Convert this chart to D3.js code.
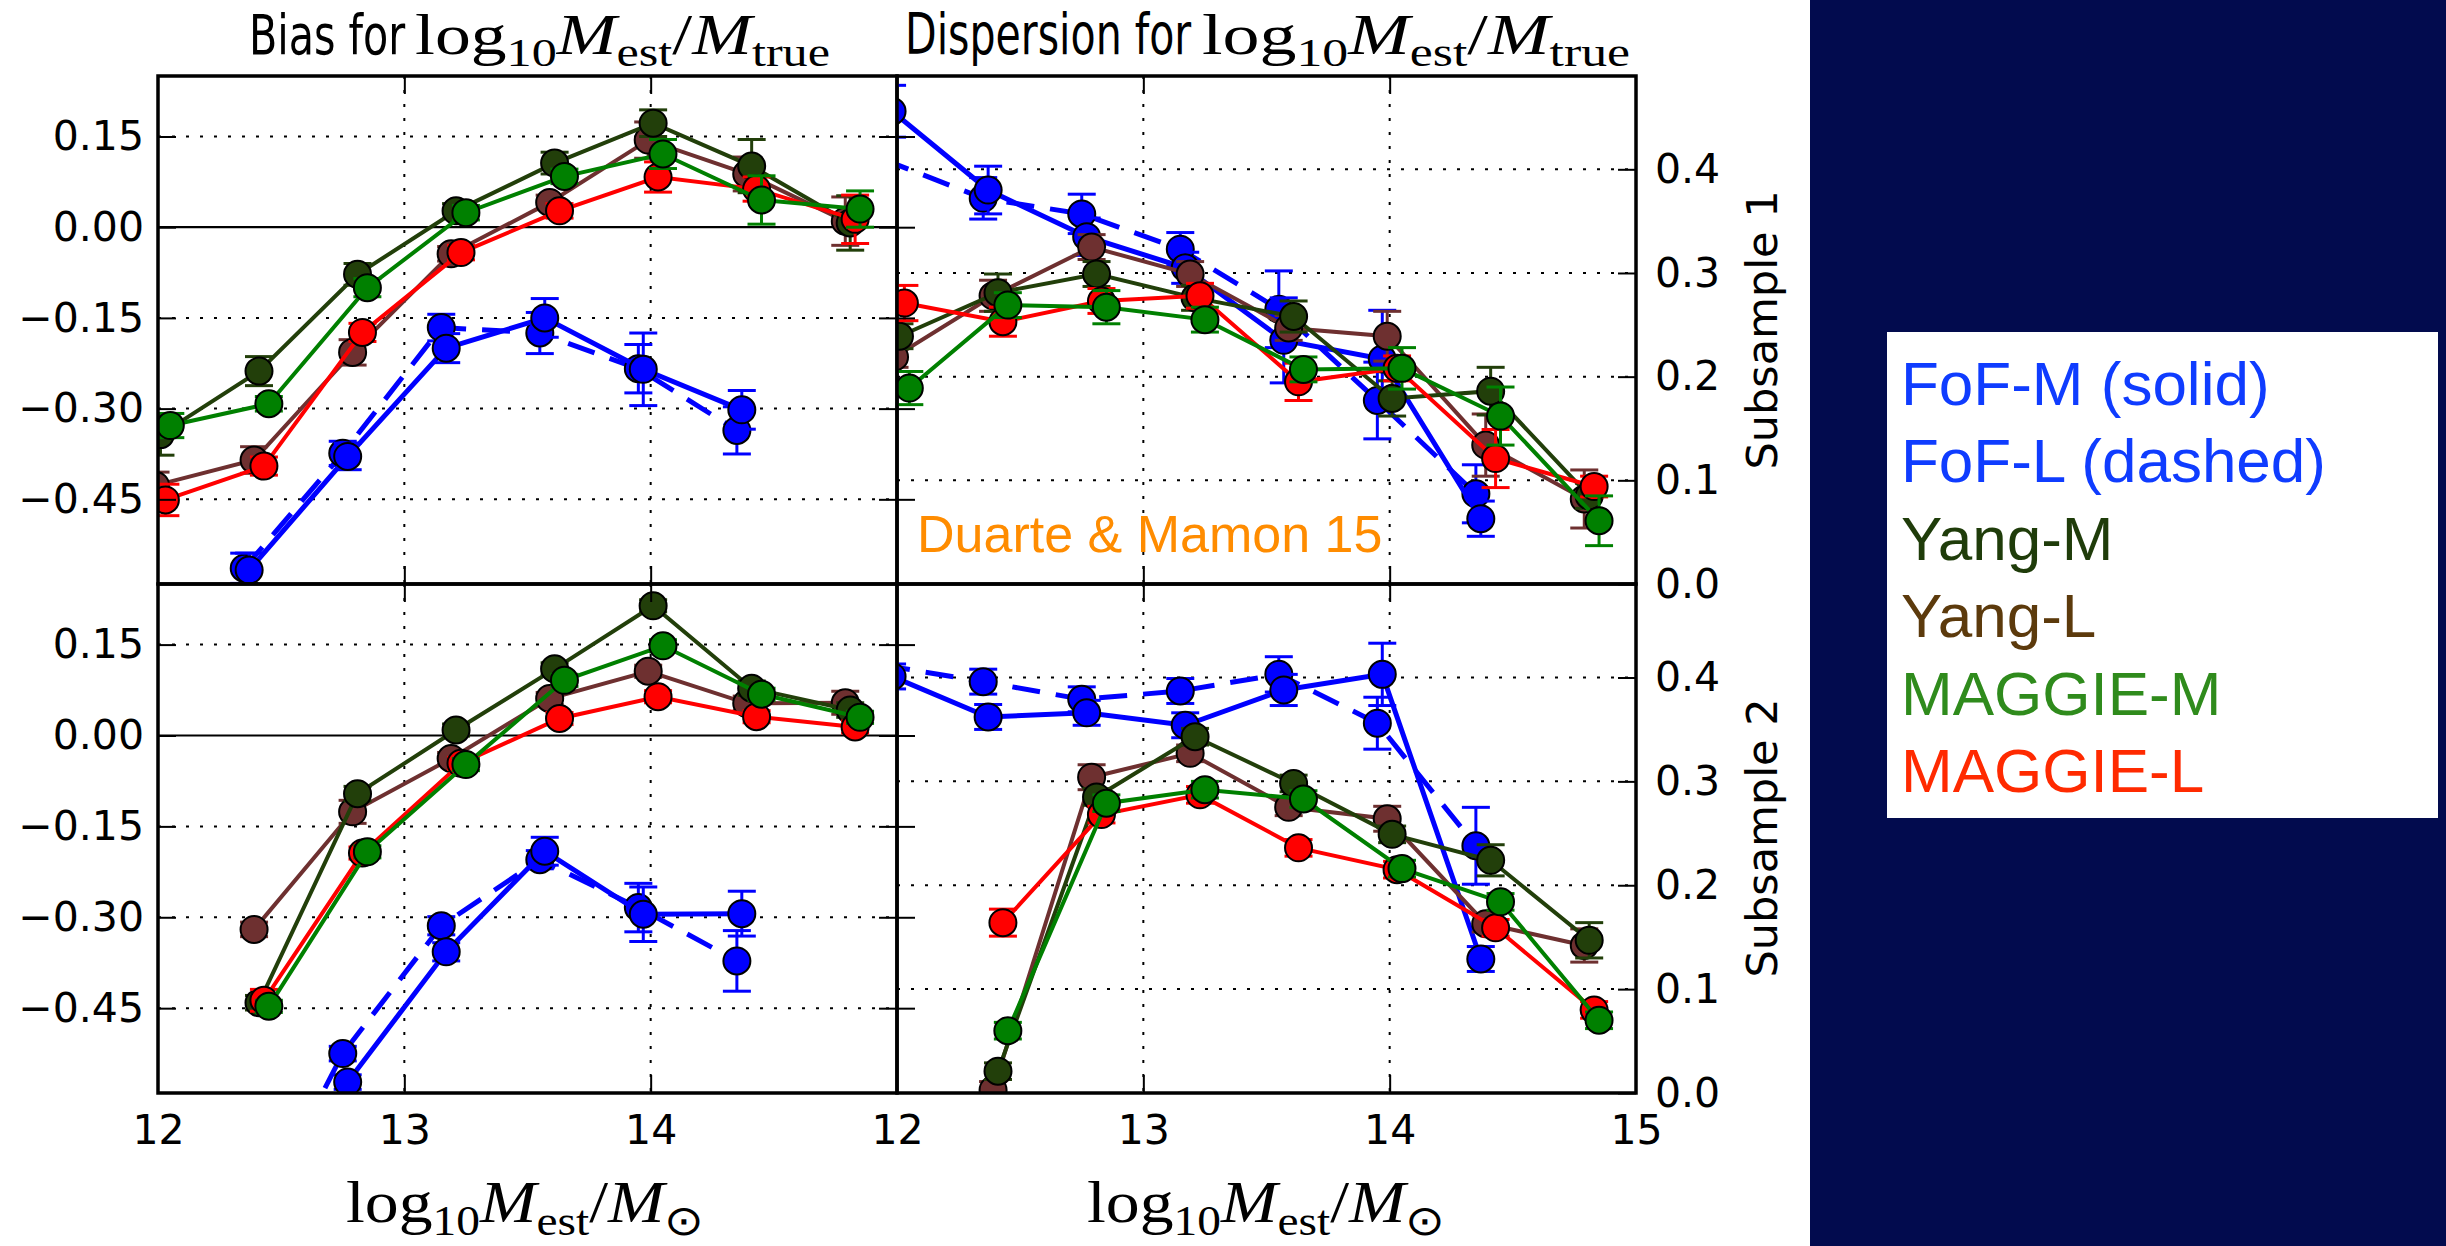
<!DOCTYPE html>
<html>
<head>
<meta charset="utf-8">
<script src="https://cdn.jsdelivr.net/npm/d3@7"></script>
<style>
  body { margin: 0; background: #fff; }
  svg { display: block; }
</style>
</head>
<body>
<svg id="chart" width="2446" height="1246"></svg>
<script>
// mass bins (log10 M_est / M_sun), each series is offset a little
const xFoFL = [11.94, 12.35, 12.75, 13.15, 13.55, 13.95, 14.35];
const xFoFM = [11.98, 12.37, 12.77, 13.17, 13.57, 13.97, 14.37];
const xYangL = [11.99, 12.39, 12.79, 13.19, 13.59, 13.99, 14.39, 14.79];
const xYangM = [12.01, 12.41, 12.81, 13.21, 13.61, 14.01, 14.41, 14.81];
const xMaggieL = [12.03, 12.43, 12.83, 13.23, 13.63, 14.03, 14.43, 14.83];
const xMaggieM = [12.05, 12.45, 12.85, 13.25, 13.65, 14.05, 14.45, 14.85];

// draw order: FoF-L, FoF-M, Yang-L, Yang-M, MAGGIE-L, MAGGIE-M
const seriesNames = ['FoF-L', 'FoF-M', 'Yang-L', 'Yang-M', 'MAGGIE-L', 'MAGGIE-M'];
const seriesX = [xFoFL, xFoFM, xYangL, xYangM, xMaggieL, xMaggieM];
const seriesColors = ['#0000ff', '#0000ff', '#6e3030', '#223f0a', '#ff0000', '#008000'];
const seriesDashed = [true, false, false, false, false, false];

// bias, subsample 1
const biasSub1 = [
  [null, -0.564, -0.374, -0.166, -0.175, -0.234, -0.336],
  [null, -0.567, -0.379, -0.200, -0.150, -0.235, -0.302],
  [-0.427, -0.385, -0.207, -0.044, 0.041, 0.144, 0.088, 0.010],
  [-0.343, -0.238, -0.078, 0.027, 0.106, 0.172, 0.101, 0.007],
  [-0.451, -0.395, -0.174, -0.042, 0.027, 0.083, 0.063, 0.013],
  [-0.328, -0.292, -0.100, 0.024, 0.084, 0.121, 0.045, 0.030]
];
const biasSub1Err = [
  [null, 0.025, 0.02, 0.022, 0.034, 0.04, 0.039],
  [null, 0.028, 0.022, 0.024, 0.032, 0.06, 0.032],
  [0.022, 0.022, 0.021, 0.012, 0.012, 0.03, 0.028, 0.04],
  [0.034, 0.024, 0.018, 0.012, 0.018, 0.022, 0.044, 0.045],
  [0.026, 0.015, 0.015, 0.012, 0.012, 0.025, 0.02, 0.04],
  [0.02, 0.012, 0.015, 0.012, 0.012, 0.024, 0.04, 0.03]
];

// dispersion, subsample 1
const dispSub1 = [
  [0.410, 0.372, 0.357, 0.323, 0.265, 0.177, 0.087],
  [0.456, 0.380, 0.335, 0.305, 0.235, 0.217, 0.063],
  [0.219, 0.278, 0.325, 0.299, 0.247, 0.239, 0.134, 0.082],
  [0.239, 0.281, 0.299, 0.276, 0.258, 0.179, 0.186, 0.085],
  [0.271, 0.253, 0.273, 0.278, 0.195, 0.208, 0.121, 0.094],
  [0.189, 0.269, 0.267, 0.255, 0.207, 0.208, 0.162, 0.061]
];
const dispSub1Err = [
  [0.02, 0.02, 0.019, 0.016, 0.037, 0.037, 0.028],
  [0.025, 0.023, 0.018, 0.015, 0.041, 0.047, 0.017],
  [0.01, 0.015, 0.012, 0.012, 0.012, 0.024, 0.03, 0.028],
  [0.012, 0.018, 0.012, 0.012, 0.015, 0.017, 0.023, 0.012],
  [0.017, 0.014, 0.012, 0.012, 0.018, 0.012, 0.028, 0.01],
  [0.016, 0.012, 0.016, 0.012, 0.012, 0.02, 0.028, 0.024]
];

// bias, subsample 2
const biasSub2 = [
  [null, -0.84, -0.525, -0.314, -0.205, -0.284, -0.372],
  [null, -0.90, -0.572, -0.357, -0.191, -0.295, -0.294],
  [null, -0.320, -0.126, -0.038, 0.061, 0.106, 0.053, 0.054],
  [null, -0.441, -0.096, 0.009, 0.110, 0.214, 0.078, 0.042],
  [null, -0.437, -0.194, -0.046, 0.028, 0.064, 0.031, 0.014],
  [null, -0.447, -0.192, -0.048, 0.091, 0.148, 0.068, 0.030]
];
const biasSub2Err = [
  [null, 0.015, 0.012, 0.015, 0.015, 0.04, 0.05],
  [null, 0.015, 0.012, 0.015, 0.023, 0.045, 0.037],
  [null, 0.012, 0.019, 0.01, 0.01, 0.01, 0.012, 0.019],
  [null, 0.012, 0.012, 0.01, 0.01, 0.01, 0.012, 0.012],
  [null, 0.018, 0.01, 0.01, 0.01, 0.01, 0.01, 0.01],
  [null, 0.01, 0.01, 0.01, 0.01, 0.01, 0.01, 0.01]
];

// dispersion, subsample 2
const dispSub2 = [
  [0.412, 0.396, 0.379, 0.387, 0.403, 0.356, 0.238],
  [0.401, 0.362, 0.366, 0.354, 0.388, 0.403, 0.129],
  [null, 0.003, 0.304, 0.327, 0.275, 0.264, 0.163, 0.142],
  [null, 0.021, 0.285, 0.343, 0.298, 0.249, 0.224, 0.147],
  [null, 0.164, 0.268, 0.287, 0.236, 0.215, 0.159, 0.080],
  [null, 0.060, 0.279, 0.292, 0.283, 0.216, 0.184, 0.070]
];
const dispSub2Err = [
  [0.012, 0.012, 0.012, 0.012, 0.017, 0.025, 0.037],
  [0.012, 0.012, 0.012, 0.012, 0.015, 0.03, 0.012],
  [null, 0.008, 0.012, 0.008, 0.008, 0.012, 0.008, 0.016],
  [null, 0.008, 0.008, 0.008, 0.008, 0.008, 0.015, 0.017],
  [null, 0.013, 0.008, 0.008, 0.008, 0.008, 0.008, 0.008],
  [null, 0.008, 0.008, 0.008, 0.008, 0.008, 0.008, 0.008]
];

const biasTicks = [0.15, 0.0, -0.15, -0.30, -0.45];
const dispTicks = [0.4, 0.3, 0.2, 0.1, 0.0];
const massTicks = [12, 13, 14, 15];

const legendLabels = ['FoF-M (solid)', 'FoF-L (dashed)', 'Yang-M', 'Yang-L', 'MAGGIE-M', 'MAGGIE-L'];
const legendColors = ['#0f3cff', '#0f3cff', '#1f3c0a', '#5c3a0c', '#2f8b1c', '#ff2a00'];

const svg = d3.select('#chart');
svg.append('rect').attr('width', 2446).attr('height', 1246).attr('fill', '#fff');

const colX = [[158, 897], [897, 1636]];
const rowY = [[76, 584], [584, 1093]];
const tickFont = 'DejaVu Sans';
const serif = 'Liberation Serif';

const panels = [
  { kind: 'bias', col: 0, row: 0, vals: biasSub1, errs: biasSub1Err },
  { kind: 'disp', col: 1, row: 0, vals: dispSub1, errs: dispSub1Err },
  { kind: 'bias', col: 0, row: 1, vals: biasSub2, errs: biasSub2Err },
  { kind: 'disp', col: 1, row: 1, vals: dispSub2, errs: dispSub2Err }
];

function styleAxis(g) {
  g.select('.domain').remove();
  g.selectAll('.tick line').attr('stroke', '#000').attr('stroke-width', 2);
  g.selectAll('.tick text')
    .attr('fill', '#000')
    .style('font-family', tickFont)
    .style('font-size', '41px');
}

panels.forEach((p, i) => {
  const [x0, x1] = colX[p.col];
  const [y0, y1] = rowY[p.row];
  const x = d3.scaleLinear().domain([12, 15]).range([x0, x1]);
  const y = d3.scaleLinear()
    .domain(p.kind === 'bias' ? [-0.59, 0.25] : [0, 0.49])
    .range([y1, y0]);

  const g = svg.append('g');
  svg.append('clipPath').attr('id', 'clip' + i)
    .append('rect').attr('x', x0).attr('y', y0).attr('width', x1 - x0).attr('height', y1 - y0);
  const plot = g.append('g').attr('clip-path', `url(#clip${i})`);

  // dotted grid
  const gridY = p.kind === 'bias' ? biasTicks.filter(v => v !== 0) : dispTicks.filter(v => v !== 0);
  plot.selectAll('.gy').data(gridY).enter().append('line')
    .attr('x1', x0).attr('x2', x1)
    .attr('y1', d => y(d)).attr('y2', d => y(d))
    .attr('stroke', '#000').attr('stroke-width', 2).attr('stroke-dasharray', '3,11');
  plot.selectAll('.gx').data([13, 14]).enter().append('line')
    .attr('x1', d => x(d)).attr('x2', d => x(d))
    .attr('y1', y0).attr('y2', y1)
    .attr('stroke', '#000').attr('stroke-width', 2).attr('stroke-dasharray', '3,11');

  if (p.kind === 'bias') {
    plot.append('line')
      .attr('x1', x0).attr('x2', x1).attr('y1', y(0)).attr('y2', y(0))
      .attr('stroke', '#000').attr('stroke-width', 2.2);
  }

  seriesNames.forEach((name, s) => {
    const pts = seriesX[s].map((xv, k) => ({ x: xv, y: p.vals[s][k], e: p.errs[s][k] }))
      .filter(d => d.y != null);
    const col = seriesColors[s];
    const lw = s < 2 ? 5 : 4;

    const line = d3.line().x(d => x(d.x)).y(d => y(d.y));
    plot.append('path').datum(pts)
      .attr('d', line)
      .attr('fill', 'none')
      .attr('stroke', col)
      .attr('stroke-width', lw)
      .attr('stroke-dasharray', seriesDashed[s] ? '28,16' : null);

    // error bars with caps
    const eb = plot.append('g').attr('stroke', col).attr('stroke-width', 3);
    pts.filter(d => d.e).forEach(d => {
      const cx = x(d.x), ya = y(d.y + d.e), yb = y(d.y - d.e);
      eb.append('line').attr('x1', cx).attr('x2', cx).attr('y1', ya).attr('y2', yb);
      eb.append('line').attr('x1', cx - 14).attr('x2', cx + 14).attr('y1', ya).attr('y2', ya);
      eb.append('line').attr('x1', cx - 14).attr('x2', cx + 14).attr('y1', yb).attr('y2', yb);
    });

    plot.append('g').selectAll('circle').data(pts).enter().append('circle')
      .attr('cx', d => x(d.x)).attr('cy', d => y(d.y)).attr('r', 13.5)
      .attr('fill', col).attr('stroke', '#000').attr('stroke-width', 2);
  });

  // ticks (inward) and labels
  const xTop = g.append('g').attr('transform', `translate(0,${y0})`)
    .call(d3.axisTop(x).tickValues([13, 14]).tickSize(-18).tickFormat(''));
  styleAxis(xTop);
  const xBot = g.append('g').attr('transform', `translate(0,${y1})`)
    .call(d3.axisBottom(x).tickValues(p.row === 1 ? (p.col === 0 ? [12, 13, 14] : massTicks) : [13, 14])
      .tickSize(-18).tickPadding(22).tickFormat(p.row === 1 ? d3.format('d') : ''));
  styleAxis(xBot);
  xBot.selectAll('.tick line').filter(d => d === 12 || d === 15).remove();

  if (p.kind === 'bias') {
    const yl = g.append('g').attr('transform', `translate(${x0},0)`)
      .call(d3.axisLeft(y).tickValues(biasTicks).tickSize(-18).tickPadding(14).tickFormat(d3.format('.2f')));
    styleAxis(yl);
    const yr = g.append('g').attr('transform', `translate(${x1},0)`)
      .call(d3.axisRight(y).tickValues(biasTicks).tickSize(-18).tickFormat(''));
    styleAxis(yr);
  } else {
    // right panel: bias ticks sit on its left spine, dispersion ticks on the right
    const yb = d3.scaleLinear().domain([-0.59, 0.25]).range([y1, y0]);
    const yl = g.append('g').attr('transform', `translate(${x0},0)`)
      .call(d3.axisLeft(yb).tickValues(biasTicks).tickSize(-18).tickFormat(''));
    styleAxis(yl);
    const yr = g.append('g').attr('transform', `translate(${x1},0)`)
      .call(d3.axisRight(y).tickValues(dispTicks).tickSize(-18).tickPadding(19).tickFormat(d3.format('.1f')));
    styleAxis(yr);
  }

  g.append('rect')
    .attr('x', x0).attr('y', y0).attr('width', x1 - x0).attr('height', y1 - y0)
    .attr('fill', 'none').attr('stroke', '#000').attr('stroke-width', 3.5);
});

// annotation
svg.append('text')
  .attr('x', 917).attr('y', 552)
  .style('font-family', 'Liberation Sans')
  .style('font-size', '52px')
  .attr('fill', '#ff8c00')
  .text('Duarte & Mamon 15');

// side labels
[['Subsample 1', 330], ['Subsample 2', 838]].forEach(([t, cy]) => {
  svg.append('text')
    .attr('transform', `translate(1777,${cy}) rotate(-90)`)
    .attr('text-anchor', 'middle')
    .style('font-family', tickFont)
    .style('font-size', '43px')
    .text(t);
});

// math-like label: parts are [text, style] with style 'rm', 'it', 'sub'
function mathText(parent, parts, size) {
  const t = parent.append('text').attr('fill', '#000');
  let shifted = false;
  parts.forEach(([txt, st]) => {
    const sp = t.append('tspan').style('font-family', serif);
    if (st === 'sub') {
      sp.style('font-size', (size * 0.7) + 'px');
      if (!shifted) { sp.attr('dy', size * 0.22); shifted = true; }
    } else {
      sp.style('font-size', size + 'px');
      if (shifted) { sp.attr('dy', -size * 0.22); shifted = false; }
      if (st === 'it') sp.style('font-style', 'italic');
    }
    sp.text(txt);
  });
  return t;
}

function plainText(parent, txt, size) {
  return parent.append('text').attr('fill', '#000')
    .style('font-family', tickFont).style('font-size', size + 'px').text(txt);
}

function fitWidth(t, left, right, baseline) {
  t.attr('x', 0).attr('y', baseline);
  const b = t.node().getBBox();
  const s = (right - left) / b.width;
  t.attr('transform', `translate(${left},0) scale(${s},1) translate(${-b.x},0)`);
}

const titleMath = [['log', 'rm'], ['10', 'sub'], ['M', 'it'], ['est', 'sub'], ['/', 'rm'], ['M', 'it'], ['true', 'sub']];
fitWidth(plainText(svg, 'Bias for', 56), 249, 406, 54);
fitWidth(mathText(svg, titleMath, 56), 415, 830, 54);
fitWidth(plainText(svg, 'Dispersion for', 56), 905, 1192, 54);
fitWidth(mathText(svg, titleMath, 56), 1202, 1630, 54);

const xLabelMath = [['log', 'rm'], ['10', 'sub'], ['M', 'it'], ['est', 'sub'], ['/', 'rm'], ['M', 'it'], ['\u2299', 'sub']];
fitWidth(mathText(svg, xLabelMath, 60), 346, 704, 1222);
fitWidth(mathText(svg, xLabelMath, 60), 1087, 1445, 1222);

// legend panel
svg.append('rect').attr('x', 1810).attr('y', 0).attr('width', 636).attr('height', 1246).attr('fill', '#020b4e');
svg.append('rect').attr('x', 1887).attr('y', 332).attr('width', 551).attr('height', 486).attr('fill', '#fff');
const legY = d3.scalePoint().domain(legendLabels).range([405, 792]);
svg.append('g').selectAll('text').data(legendLabels).enter().append('text')
  .attr('x', 1901)
  .attr('y', d => legY(d))
  .attr('fill', (d, k) => legendColors[k])
  .style('font-family', 'Liberation Sans')
  .style('font-size', '62px')
  .text(d => d);
</script>
</body>
</html>
